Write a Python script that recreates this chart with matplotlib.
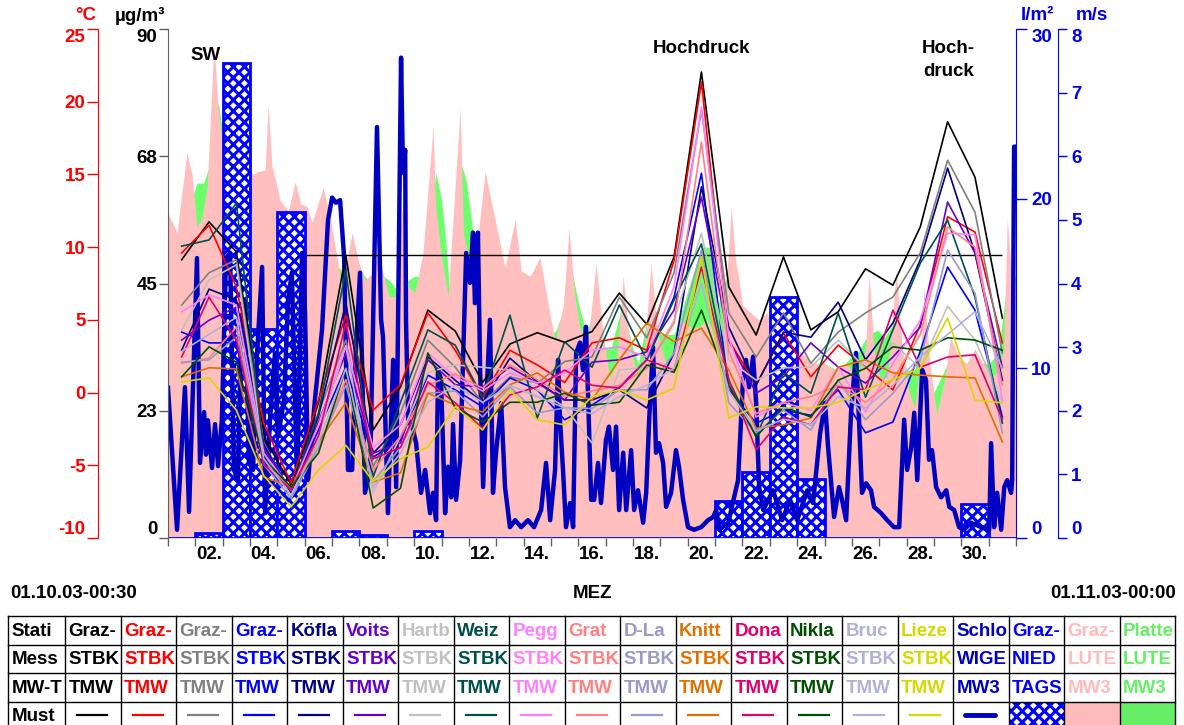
import matplotlib
matplotlib.use('Agg')
import matplotlib.pyplot as plt
import numpy as np
from matplotlib.patches import Rectangle

plt.rcParams['font.family'] = ['Liberation Sans', 'DejaVu Sans']
plt.rcParams['font.weight'] = 'bold'
plt.rcParams['hatch.linewidth'] = 2.2
plt.rcParams['axes.unicode_minus'] = False

# ---------------- data ----------------
day_labels = ["02.", "04.", "06.", "08.", "10.", "12.", "14.", "16.", "18.", "20.",
              "22.", "24.", "26.", "28.", "30."]

pm_black = [49.2, 55.9, 50.6, 17.9, 9.4, 23.9, 50.0, 19.1, 26.7, 40.3, 36.6, 27.5, 34.3, 36.3, 34.6, 36.5,
            43.3, 37.8, 49.7, 82.4, 44.4, 35.9, 49.7, 36.8, 40.0, 47.6, 44.7, 55.0, 73.6, 63.8, 38.9]
pm_red = [50.4, 55.3, 44.4, 20.3, 9.7, 24.4, 39.4, 22.6, 27.1, 39.8, 33.2, 24.8, 33.2, 30.6, 27.5, 34.5,
          35.4, 33.2, 49.1, 80.6, 35.0, 27.1, 36.2, 28.5, 34.1, 30.2, 26.2, 37.7, 56.8, 54.1, 34.5]
pm_gray = [41.2, 46.9, 49.2, 16.8, 8.0, 22.1, 35.0, 12.6, 22.1, 35.0, 30.2, 23.9, 28.5, 27.4, 31.2, 32.0,
           42.6, 35.4, 46.9, 75.7, 39.8, 32.0, 39.8, 30.9, 36.4, 39.8, 42.6, 50.4, 66.8, 57.6, 32.7]
pm_blue = [36.4, 34.5, 34.5, 13.8, 8.0, 19.1, 30.2, 14.3, 17.3, 28.8, 26.2, 23.2, 28.3, 26.2, 20.9, 23.5,
           26.7, 31.5, 42.6, 64.5, 26.2, 20.3, 22.6, 21.7, 26.2, 18.6, 20.5, 33.0, 47.9, 40.3, 21.4]
pm_navy = [33.2, 44.0, 42.1, 16.5, 8.0, 21.5, 41.5, 15.0, 20.0, 32.0, 27.9, 24.0, 31.8, 27.6, 24.4, 24.4,
           26.2, 23.0, 32.7, 62.1, 37.3, 27.0, 36.4, 35.5, 41.7, 31.5, 38.0, 49.2, 65.4, 50.4, 27.9]
pm_purple = [35.0, 38.5, 40.8, 16.0, 8.3, 20.5, 32.7, 15.0, 16.8, 31.5, 27.1, 26.7, 30.2, 27.4, 24.4, 31.1,
             31.5, 32.9, 40.3, 60.3, 35.0, 25.6, 28.5, 34.5, 30.2, 27.4, 32.0, 37.3, 59.4, 50.4, 30.2]
pm_lgray = [36.8, 45.6, 48.3, 15.0, 7.5, 18.0, 34.0, 8.0, 18.0, 29.3, 30.6, 30.2, 29.7, 26.2, 23.2, 16.8,
            29.7, 30.2, 38.5, 53.9, 31.5, 27.9, 30.1, 30.2, 35.0, 30.0, 34.5, 30.0, 41.0, 35.0, 24.0]
pm_teal = [51.6, 52.7, 59.2, 15.0, 8.5, 22.0, 47.4, 10.8, 24.0, 36.8, 34.1, 24.9, 39.4, 21.2, 34.7, 30.2,
           41.2, 31.5, 42.1, 52.0, 27.9, 17.9, 29.2, 25.6, 39.8, 24.9, 36.8, 48.6, 56.2, 42.6, 20.3]
pm_pegg = [40.0, 43.0, 41.2, 15.0, 8.5, 20.0, 34.0, 16.0, 20.0, 32.7, 28.5, 26.0, 29.2, 27.4, 29.2, 33.2,
           33.8, 32.0, 44.4, 76.2, 35.5, 21.4, 23.9, 22.6, 30.2, 22.3, 30.9, 38.5, 53.9, 53.6, 24.4]
pm_salmon = [30.9, 31.8, 37.3, 13.0, 9.0, 16.0, 28.0, 12.0, 18.0, 27.0, 29.0, 26.5, 30.6, 28.0, 25.0, 26.0,
             27.0, 30.0, 38.0, 70.0, 33.0, 22.0, 24.0, 25.0, 27.0, 24.0, 28.0, 36.0, 55.0, 51.4, 27.0]
pm_lav = [31.1, 31.5, 35.5, 13.0, 7.0, 16.0, 27.0, 10.0, 16.0, 25.6, 26.0, 21.4, 26.7, 22.1, 23.0, 22.9,
          26.2, 26.2, 32.7, 50.9, 23.9, 18.6, 22.6, 19.1, 27.9, 20.9, 25.6, 31.5, 50.9, 43.3, 18.6]
pm_orange = [28.5, 30.1, 29.9, 10.8, 9.0, 17.0, 23.9, 9.9, 11.5, 25.6, 23.5, 22.3, 27.1, 29.2, 25.8, 24.4,
             31.5, 38.0, 34.7, 37.1, 29.7, 19.4, 20.0, 21.2, 30.2, 31.5, 29.2, 28.8, 28.5, 28.3, 17.0]
pm_magenta = [32.0, 42.6, 35.0, 13.0, 8.5, 18.0, 38.0, 14.0, 16.0, 27.6, 23.9, 19.4, 25.3, 26.7, 29.7, 27.0,
              26.5, 31.5, 29.7, 47.9, 28.0, 15.6, 21.4, 20.0, 26.7, 26.2, 40.3, 30.2, 32.0, 32.4, 21.0]
pm_dgreen = [28.5, 33.8, 31.1, 14.0, 9.0, 15.0, 30.0, 5.3, 8.8, 32.7, 23.0, 20.5, 24.0, 24.0, 25.6, 23.5,
             24.0, 30.6, 29.3, 40.3, 27.0, 17.9, 23.2, 21.4, 27.9, 30.0, 33.8, 33.2, 35.4, 35.0, 33.2]
pm_bruc = [33.0, 36.0, 39.0, 14.0, 7.5, 17.0, 30.0, 9.0, 15.0, 24.0, 27.0, 24.0, 27.0, 25.0, 23.0, 22.0,
           25.0, 27.0, 30.0, 45.0, 26.0, 19.0, 21.0, 20.0, 25.0, 23.0, 27.0, 32.0, 36.0, 40.0, 30.0]
pm_yellow = [27.6, 28.3, 22.6, 11.0, 5.5, 12.0, 16.4, 10.0, 14.0, 16.1, 23.2, 19.1, 26.2, 20.9, 20.0, 25.0,
             26.2, 24.4, 26.5, 49.7, 21.2, 23.2, 23.0, 23.0, 24.0, 26.2, 28.0, 30.0, 38.9, 24.4, 23.9]

limit_value = 50.0

precip = [0, 0.3, 28.0, 12.3, 19.2, 0, 0.4, 0.2, 0, 0.4, 0, 0, 0, 0, 0, 0, 0, 0, 0, 0,
          2.2, 3.9, 14.2, 3.5, 0, 0, 0, 0, 0, 2.0, 0]

wind = [(0.00, 2.36), (0.33, 0.13), (0.62, 2.37), (0.77, 0.41), (1.06, 4.40), (1.17, 1.18), (1.32, 1.98),
        (1.39, 1.31), (1.46, 1.85), (1.61, 1.10), (1.72, 1.79), (1.83, 1.13), (1.97, 1.86), (2.12, 4.40),
        (2.27, 4.48), (2.41, 1.07), (2.56, 0.91), (2.67, 3.27), (2.82, 3.74), (2.96, 1.18), (3.11, 1.07),
        (3.25, 2.85), (3.44, 4.26), (3.55, 0.39), (3.73, 1.86), (3.91, 2.91), (4.02, 1.59), (4.24, 2.17),
        (4.39, 3.74), (4.53, 4.17), (4.72, 0.80), (4.90, 4.48), (5.01, 3.54), (5.12, 0.91), (5.37, 2.17),
        (5.63, 3.27), (5.85, 5.00), (6.00, 5.35), (6.14, 5.27), (6.29, 5.31), (6.44, 4.40), (6.58, 1.07),
        (6.73, 1.07), (6.87, 2.96), (7.02, 4.17), (7.20, 0.71), (7.39, 1.07), (7.64, 6.46), (7.79, 3.43),
        (7.86, 3.16), (8.04, 0.39), (8.23, 2.80), (8.34, 0.80), (8.52, 7.55), (8.59, 5.74), (8.67, 6.10),
        (8.70, 3.43), (8.78, 1.86), (8.96, 1.70), (9.07, 1.49), (9.25, 0.71), (9.40, 1.07), (9.58, 0.39),
        (9.69, 0.71), (9.80, 0.28), (9.87, 2.64), (9.98, 2.50), (10.13, 0.39), (10.24, 1.12), (10.35, 0.64),
        (10.42, 1.79), (10.53, 0.60), (10.68, 1.23), (10.90, 4.48), (11.04, 4.01), (11.15, 4.80),
        (11.22, 3.69), (11.33, 4.80), (11.41, 2.64), (11.52, 0.80), (11.63, 2.12), (11.77, 3.43),
        (11.88, 0.71), (11.99, 1.34), (12.18, 2.12), (12.32, 0.80), (12.50, 0.17), (12.69, 0.28),
        (12.91, 0.17), (13.16, 0.28), (13.38, 0.17), (13.64, 0.44), (13.82, 1.18), (13.97, 0.28),
        (14.15, 1.07), (14.26, 2.80), (14.33, 1.86), (14.44, 1.07), (14.55, 0.17), (14.70, 0.55),
        (14.81, 0.17), (14.92, 2.91), (15.06, 3.07), (15.17, 2.64), (15.28, 3.32), (15.47, 0.60),
        (15.58, 0.60), (15.72, 1.18), (15.83, 0.55), (16.01, 1.54), (16.12, 1.75), (16.27, 1.07),
        (16.38, 1.75), (16.49, 0.44), (16.64, 1.34), (16.75, 0.44), (16.93, 1.38), (17.04, 0.44),
        (17.18, 0.75), (17.37, 0.24), (17.48, 0.71), (17.59, 1.86), (17.73, 3.00), (17.84, 1.34),
        (17.95, 1.49), (18.10, 1.18), (18.21, 0.49), (18.39, 0.71), (18.57, 1.38), (18.68, 1.12),
        (18.83, 0.60), (19.01, 0.17), (19.23, 0.13), (19.49, 0.17), (19.74, 0.28), (19.93, 0.33),
        (20.04, 0.44), (20.15, 0.13), (20.48, 0.24), (20.84, 0.91), (21.02, 2.48), (21.13, 2.80),
        (21.24, 2.37), (21.39, 2.85), (21.50, 2.12), (21.61, 0.80), (21.76, 0.44), (22.12, 0.75),
        (22.45, 0.28), (22.74, 0.60), (23.00, 0.28), (23.37, 0.75), (23.58, 0.55), (23.84, 1.65),
        (24.02, 2.12), (24.13, 1.43), (24.35, 0.33), (24.53, 0.80), (24.64, 0.60), (24.79, 0.28),
        (24.97, 1.97), (25.15, 2.91), (25.26, 1.86), (25.37, 0.71), (25.52, 0.86), (25.70, 0.75),
        (25.81, 0.49), (26.07, 0.39), (26.29, 0.28), (26.54, 0.17), (26.73, 0.17), (26.91, 1.86),
        (27.02, 1.07), (27.17, 1.43), (27.28, 1.97), (27.39, 0.91), (27.57, 2.64), (27.71, 2.48),
        (27.82, 1.23), (27.93, 1.38), (28.08, 0.80), (28.26, 0.64), (28.45, 0.75), (28.56, 0.49),
        (28.74, 0.44), (28.92, 0.17), (29.10, 0.13), (29.36, 0.24), (29.73, 0.17), (30.02, 0.13),
        (30.09, 1.49), (30.20, 0.17), (30.31, 0.71), (30.46, 0.13), (30.57, 0.80), (30.68, 0.91),
        (30.82, 0.71), (30.86, 0.91), (30.93, 6.15), (31.00, 6.15)]

temp_graz = [(0.00, 12.35), (0.33, 11.0), (0.69, 16.5), (0.88, 15.0), (1.06, 11.4), (1.24, 12.0), (1.43, 14.1),
             (1.68, 24.0), (1.83, 19.6), (1.97, 17.5), (2.3, 15.0), (2.6, 17.0), (2.9, 15.5), (3.11, 15.0),
             (3.29, 15.2), (3.55, 15.3), (3.66, 19.8), (3.80, 15.5), (3.91, 14.8), (4.10, 13.2), (4.4, 12.5),
             (4.65, 14.5), (4.85, 13.0), (5.08, 12.8), (5.27, 11.7), (5.67, 14.1), (5.92, 12.1), (6.36, 7.3),
             (6.73, 11.0), (6.95, 9.1), (7.20, 7.7), (7.46, 8.2), (7.68, 9.6), (8.08, 6.6), (8.30, 6.6),
             (8.59, 13.2), (8.78, 7.3), (9.03, 6.9), (9.32, 9.6), (9.69, 18.3), (9.78, 13.0), (9.95, 10.0),
             (10.24, 6.6), (10.68, 19.6), (10.8, 11.0), (11.0, 9.0), (11.2, 8.5), (11.59, 15.2), (11.96, 11.9),
             (12.32, 8.6), (12.69, 11.9), (12.91, 8.4), (13.24, 8.0), (13.60, 9.3), (13.89, 6.2), (14.15, 3.5),
             (14.45, 6.0), (14.66, 11.3), (14.85, 7.0), (15.05, 4.5), (15.35, 3.5), (15.65, 8.9), (15.9, 4.0),
             (16.15, 1.0), (16.4, 2.0), (16.64, 8.0), (16.9, 3.0), (17.2, 1.0), (17.4, 2.5), (17.66, 8.9),
             (17.9, 4.0), (18.2, 2.0), (18.5, 3.0), (18.75, 5.0), (19.1, 4.5), (19.4, 4.5), (19.7, 5.0),
             (20.0, 4.0), (20.3, 4.0), (20.59, 12.8), (20.75, 9.0), (20.84, 8.2), (21.0, 6.0), (21.3, 5.5),
             (21.6, 5.0), (21.9, 5.5), (22.2, 4.0), (22.6, 3.5), (22.9, 3.0), (23.3, 2.5), (23.6, 2.0),
             (24.0, 2.0), (24.4, 1.5), (24.8, 2.0), (25.2, 1.0), (25.5, 3.0), (25.63, 8.2), (25.8, 3.0),
             (26.0, 1.0), (26.3, 1.0), (26.62, 8.4), (26.85, 3.0), (27.1, 0.0), (27.3, -1.0), (27.5, 2.0),
             (27.64, 7.3), (27.85, 2.0), (28.1, -1.5), (28.4, 1.0), (28.6, 3.8), (28.9, 2.5), (29.2, 2.0),
             (29.5, 3.0), (29.8, 2.0), (30.1, 1.0), (30.35, 1.5), (30.55, 3.0), (30.68, 11.9), (30.85, 8.0),
             (31.0, 8.0)]

temp_platte = [(0.0, 10), (0.5, 9.5), (0.7, 13), (0.9, 13.5), (1.06, 14.4), (1.3, 14.4), (1.5, 15.5),
               (1.68, 20), (1.85, 19.8), (2.0, 18), (2.5, 15), (3.0, 14), (3.5, 14), (4.0, 12), (4.5, 11),
               (5.0, 11), (5.5, 10), (6.0, 9), (6.36, 8.4), (6.7, 9), (7.0, 8.5), (7.4, 7.5), (7.86, 8.0),
               (8.1, 7.7), (8.4, 7.0), (8.6, 7.5), (9.0, 8.0), (9.3, 8.0), (9.6, 13), (9.8, 15.1), (10.0, 13.2),
               (10.15, 10.5), (10.3, 6.9), (10.5, 12), (10.68, 16), (10.9, 14.6), (11.15, 11.0), (11.3, 8.0),
               (11.6, 12), (12.0, 9), (12.5, 7), (13.0, 7), (13.5, 7), (14.0, 4.0), (14.2, 4.3), (14.5, 6),
               (14.7, 9), (15.0, 6.2), (15.3, 4), (15.6, 6), (16.0, 3.0), (16.2, 3.1), (16.6, 6), (17.0, 3),
               (17.2, 2.0), (17.6, 6), (18.0, 4), (18.5, 4), (19.0, 7), (19.5, 10), (19.8, 10), (20.1, 6),
               (20.6, 9), (21.0, 6), (21.5, 5), (22.0, 4), (22.5, 3), (23.0, 3), (23.5, 2), (24.0, 2),
               (24.5, 1.5), (25.0, 2.5), (25.2, 2.7), (25.6, 4), (25.95, 4.3), (26.2, 3.8), (26.6, 5),
               (27.0, 1.5), (27.3, 1.6), (27.6, 4), (28.0, 0.0), (28.1, 0.4), (28.5, 2), (29.0, 2), (29.5, 2),
               (30.0, 2), (30.35, 2.7), (30.7, 8), (31.0, 7)]

pm_series = [pm_black, pm_red, pm_gray, pm_blue, pm_navy, pm_purple, pm_lgray, pm_teal, pm_pegg,
             pm_salmon, pm_lav, pm_orange, pm_magenta, pm_dgreen, pm_bruc, pm_yellow]

stations = ["Graz-", "Graz-", "Graz-", "Graz-", "Köfla", "Voits", "Hartb", "Weiz", "Pegg", "Grat",
            "D-La", "Knitt", "Dona", "Nikla", "Bruc", "Lieze", "Schlo", "Graz-", "Graz-", "Platte"]
quantities = ["STBK"] * 16 + ["WIGE", "NIED", "LUTE", "LUTE"]
mean_types = ["TMW"] * 16 + ["MW3", "TAGS", "MW3", "MW3"]
colors = ['#000000', '#FF0000', '#808080', '#0000FF', '#000080', '#6600CC', '#C0C0C0', '#00504A',
          '#FF80FF', '#FF8080', '#9999CC', '#E07000', '#E0006F', '#004F00', '#B0B0D8', '#D8D800',
          '#0000C0', '#0000FF', '#FFBBBB', '#66EE66']

# ---------------- figure ----------------
W, H = 1184, 725
fig = plt.figure(figsize=(W / 100, H / 100), dpi=100)
L, R, B, T = 168, 1016, 538, 29
pos = [L / W, 1 - B / H, (R - L) / W, (B - T) / H]
PX = 72 / 100.0  # points per pixel

def clean(ax):
    for s in ax.spines.values():
        s.set_visible(False)
    ax.set_xlim(0, 31)
    ax.set_xticks([])

def shift_end_labels(ax):
    ticks = ax.yaxis.get_major_ticks()
    for lab in (ticks[0].label1, ticks[0].label2):
        lab.set_verticalalignment('bottom')
    for lab in (ticks[-1].label1, ticks[-1].label2):
        lab.set_verticalalignment('top')

# temperature axis (fills)
ax_t = fig.add_axes(pos, zorder=1)
clean(ax_t)
ax_t.set_ylim(-10, 25)
gd, gt = zip(*temp_platte)
ax_t.fill_between(gd, -10, gt, color='#6CFF6C', lw=0)
pd_, pt_ = zip(*temp_graz)
ax_t.fill_between(pd_, -10, pt_, color='#FFBFBF', lw=0)
ax_t.spines['left'].set_visible(True)
ax_t.spines['left'].set_position(('outward', 70 * PX))
ax_t.spines['left'].set_color('red')
ax_t.set_yticks(range(-10, 26, 5))
ax_t.tick_params(axis='y', colors='red', length=11 * PX, width=1, labelsize=13.5, pad=1)
shift_end_labels(ax_t)

# precipitation axis (bars)
ax_p = fig.add_axes(pos, zorder=2)
clean(ax_p)
ax_p.patch.set_visible(False)
ax_p.set_ylim(0, 30)
days_idx = np.arange(31)
ax_p.bar(days_idx + 0.5, precip, width=1.0, facecolor='white', edgecolor='#0000FF', hatch='xxx', lw=2.0)
ax_p.spines['right'].set_visible(True)
ax_p.spines['right'].set_color('#0000FF')
ax_p.yaxis.tick_right()
ax_p.set_yticks([0, 10, 20, 30])
ax_p.tick_params(axis='y', colors='#0000EE', length=11 * PX, width=1, labelsize=13.5, pad=3)
shift_end_labels(ax_p)

# wind axis
ax_w = fig.add_axes(pos, zorder=3)
clean(ax_w)
ax_w.patch.set_visible(False)
ax_w.set_ylim(0, 8)
wd, wv = zip(*wind)
ax_w.plot(wd, wv, color='#0000C0', lw=3.2, solid_joinstyle='round')
ax_w.spines['right'].set_visible(True)
ax_w.spines['right'].set_position(('outward', 42 * PX))
ax_w.spines['right'].set_color('#0000FF')
ax_w.yaxis.tick_right()
ax_w.set_yticks(range(0, 9))
ax_w.tick_params(axis='y', colors='#0000EE', length=9 * PX, width=1, labelsize=13.5, pad=3)
shift_end_labels(ax_w)

# PM10 axis
ax_pm = fig.add_axes(pos, zorder=4)
for s in ax_pm.spines.values():
    s.set_visible(False)
ax_pm.patch.set_visible(False)
ax_pm.set_xlim(0, 31)
ax_pm.set_ylim(0, 90)
ax_pm.spines['left'].set_visible(True)
ax_pm.spines['left'].set_color('#606060')
ax_pm.set_yticks([0, 22.5, 45, 67.5, 90])
ax_pm.set_yticklabels(["0", "23", "45", "68", "90"])
ax_pm.tick_params(axis='y', colors='#606060', labelcolor='black', length=9 * PX, width=1,
                  labelsize=13.5, pad=1)
shift_end_labels(ax_pm)
ax_pm.set_xticks(range(0, 32))
ax_pm.set_xticklabels([])
ax_pm.set_xticks(np.arange(1.5, 31, 2), minor=True)
ax_pm.set_xticklabels(day_labels, minor=True)
ax_pm.tick_params(axis='x', which='major', colors='#606060', length=8 * PX, width=1)
ax_pm.tick_params(axis='x', which='minor', length=0, labelsize=13.5, pad=6, labelcolor='black')

ax_pm.hlines(limit_value, 5.05, 30.5, color='black', lw=1.0, zorder=1)
mid = days_idx + 0.5
for ser, col in zip(pm_series, colors[:16]):
    ax_pm.plot(mid, ser, color=col, lw=1.2, zorder=2)

ax_pm.text(1.39, 85.4, "SW", ha='center', va='center', fontsize=13.5, fontweight='bold')
ax_pm.text(19.5, 86.5, "Hochdruck", ha='center', va='center', fontsize=13.5, fontweight='bold')
ax_pm.text(28.52, 86.5, "Hoch-", ha='center', va='center', fontsize=13.5, fontweight='bold')
ax_pm.text(28.52, 82.4, "druck", ha='center', va='center', fontsize=13.5, fontweight='bold')

# axis titles
def ftext(x, y, s, **kw):
    fig.text(x / W, 1 - y / H, s, fontsize=13.5, fontweight='bold', **kw)

ftext(86, 16, "°C", color='red', ha='center', va='center')
ftext(140, 16, "µg/m³", color='black', ha='center', va='center')
ftext(1037, 16, "l/m²", color='#0000EE', ha='center', va='center')
ftext(1092, 16, "m/s", color='#0000EE', ha='center', va='center')
ftext(10, 593, "01.10.03-00:30", color='black', ha='left', va='center')
ftext(593, 593, "MEZ", color='black', ha='center', va='center')
ftext(1176, 593, "01.11.03-00:00", color='black', ha='right', va='center')

# ---------------- legend table ----------------
tab = fig.add_axes([0, 0, 1, 1], zorder=10)
tab.set_xlim(0, W)
tab.set_ylim(H, 0)
tab.axis('off')
tab.patch.set_visible(False)

x_left, x_first, col_w = 8, 65, 55.5
row_tops = [616, 644.5, 673, 701.5, 730]
headers = ["Stati", "Mess", "MW-T", "Must"]
ncol = len(stations)
col_edges = [x_left, x_first] + [x_first + col_w * (i + 1) for i in range(ncol)]

def cell_text(x0, y0, w, h, s, color):
    clip = Rectangle((x0, y0), w, h, transform=tab.transData)
    t = tab.text(x0 + 3.5, y0 + h / 2 + 1, s, color=color, fontsize=13.5, fontweight='bold',
                 va='center', ha='left')
    t.set_clip_path(clip)

for r in range(4):
    y0 = row_tops[r]
    h = row_tops[r + 1] - y0
    cell_text(col_edges[0], y0, col_edges[1] - col_edges[0], h, headers[r], 'black')
    for c in range(ncol):
        x0 = col_edges[c + 1]
        w = col_edges[c + 2] - x0
        col = colors[c]
        if r == 0:
            cell_text(x0, y0, w, h, stations[c], col)
        elif r == 1:
            cell_text(x0, y0, w, h, quantities[c], col)
        elif r == 2:
            cell_text(x0, y0, w, h, mean_types[c], col)
        else:
            yc = y0 + h / 2 - 1
            if c < 16:
                tab.plot([x0 + 12, x0 + 42], [yc, yc], color=col, lw=1.6)
            elif c == 16:
                tab.plot([x0 + 12, x0 + 42], [yc, yc], color=col, lw=3.5, solid_capstyle='round')
            elif c == 17:
                tab.add_patch(Rectangle((x0, y0), w, h, facecolor='white', edgecolor='#0000FF',
                                        hatch='xxx', lw=0))
            else:
                tab.add_patch(Rectangle((x0, y0), w, h, facecolor=col, edgecolor='none'))

for y in row_tops:
    tab.plot([col_edges[0], col_edges[-1]], [y, y], color='black', lw=1.0)
for x in col_edges:
    tab.plot([x, x], [row_tops[0], row_tops[-1]], color='black', lw=1.0)

fig.savefig('out.png', dpi=100)
